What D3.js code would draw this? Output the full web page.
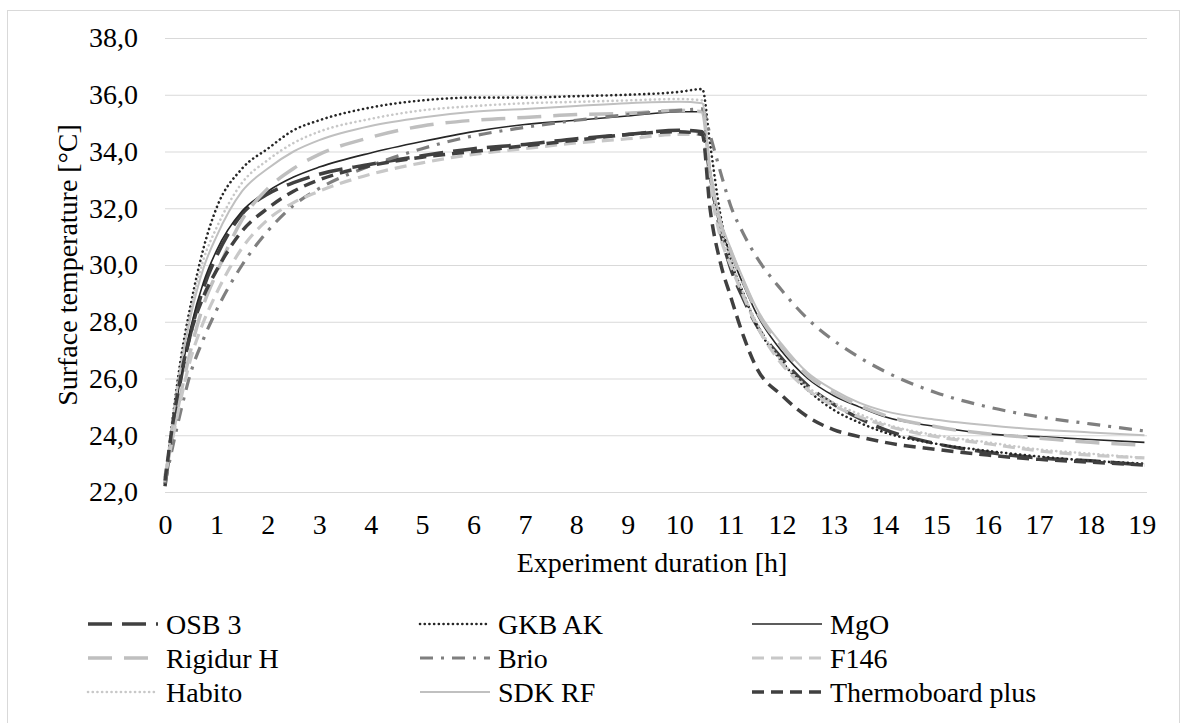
<!DOCTYPE html>
<html>
<head>
<meta charset="utf-8">
<script src="https://cdn.jsdelivr.net/npm/d3@7"></script>
<style>
  html, body { margin: 0; padding: 0; background: #fff; }
  svg text { font-family: "Liberation Serif", Tinos, "DejaVu Serif", serif; fill: #000; }
</style>
</head>
<body>
<div id="chart"></div>
<script>
// time axis (hours), shared by all series
var hours = [0, 0.15, 0.3, 0.5, 0.75, 1, 1.5, 2, 2.5, 3, 4, 5, 6, 7, 8, 9, 10, 10.45,
  10.6, 10.8, 11, 11.25, 11.5, 12, 12.5, 13, 13.5, 14, 15, 16, 17, 18, 19.05];

var osb3 = [22.2, 24.2, 25.9, 27.6, 29.2, 30.3, 31.8, 32.5, 32.9, 33.2, 33.55, 33.85, 34.1, 34.25, 34.45, 34.6, 34.75, 34.7,
  33.2, 31.2, 29.9, 28.8, 27.9, 26.7, 25.75, 25.1, 24.6, 24.2, 23.7, 23.4, 23.2, 23.1, 22.95];
var gkbAk = [22.3, 24.6, 26.6, 28.6, 30.6, 32.0, 33.4, 34.1, 34.75, 35.1, 35.55, 35.8, 35.9, 35.9, 35.95, 36.0, 36.1, 36.2,
  34.3, 31.8, 30.2, 29.0, 27.9, 26.6, 25.6, 24.9, 24.45, 24.1, 23.7, 23.45, 23.25, 23.1, 23.0];
var mgo = [22.3, 24.3, 26.0, 27.8, 29.4, 30.5, 31.9, 32.6, 33.1, 33.45, 33.95, 34.35, 34.7, 34.95, 35.1, 35.25, 35.4, 35.4,
  33.0, 31.3, 30.4, 29.3, 28.3, 26.95, 26.0, 25.4, 25.0, 24.65, 24.3, 24.05, 23.95, 23.85, 23.75];
var rigidurH = [22.5, 24.0, 25.4, 27.0, 28.6, 29.7, 31.6, 32.7, 33.4, 33.9, 34.5, 34.9, 35.1, 35.2, 35.3, 35.35, 35.45, 35.4,
  33.3, 31.5, 30.5, 29.4, 28.4, 27.1, 26.1, 25.5, 25.05, 24.7, 24.3, 24.05, 23.9, 23.75, 23.65];
var brio = [22.3, 23.6, 24.8, 26.2, 27.4, 28.4, 30.0, 31.2, 32.1, 32.7, 33.5, 34.1, 34.55, 34.85, 35.1, 35.3, 35.45, 35.5,
  34.6, 33.3, 32.1, 31.1, 30.3, 29.1, 28.1, 27.35, 26.75, 26.25, 25.5, 25.0, 24.65, 24.4, 24.15];
var f146 = [22.6, 23.9, 25.2, 26.7, 28.0, 29.0, 30.6, 31.6, 32.2, 32.6, 33.2, 33.6, 33.9, 34.1, 34.3, 34.45, 34.6, 34.6,
  32.8, 31.0, 30.0, 28.9, 27.9, 26.5, 25.6, 25.05, 24.65, 24.35, 23.95, 23.7, 23.45, 23.3, 23.2];
var habito = [22.4, 24.6, 26.5, 28.4, 30.2, 31.3, 32.9, 33.7, 34.3, 34.7, 35.15, 35.45, 35.6, 35.7, 35.75, 35.8, 35.85, 35.8,
  33.3, 31.3, 30.2, 29.0, 28.0, 26.6, 25.7, 25.15, 24.75, 24.4, 24.0, 23.75, 23.5, 23.35, 23.2];
var sdkRf = [22.4, 24.5, 26.3, 28.2, 29.9, 31.0, 32.6, 33.4, 34.0, 34.4, 34.9, 35.2, 35.4, 35.5, 35.6, 35.7, 35.75, 35.7,
  33.4, 31.6, 30.6, 29.5, 28.5, 27.2, 26.2, 25.6, 25.15, 24.85, 24.55, 24.35, 24.2, 24.1, 24.0];
var thermoboard = [22.4, 24.4, 26.0, 27.6, 28.9, 29.8, 31.2, 32.0, 32.6, 33.0, 33.5, 33.8, 34.0, 34.2, 34.4, 34.6, 34.7, 34.6,
  32.0, 30.1, 28.9, 27.5, 26.4, 25.4, 24.65, 24.2, 23.95, 23.75, 23.5, 23.3, 23.15, 23.05, 22.95];

var seriesNames = ["OSB 3", "GKB AK", "MgO", "Rigidur H", "Brio", "F146", "Habito", "SDK RF", "Thermoboard plus"];
var xTicks = d3.range(0, 20);
var yTicks = [22, 24, 26, 28, 30, 32, 34, 36, 38];

// line looks, in the same order as seriesNames
var looks = [
  {color: "#404040", width: 3.5, dash: "24,10", cap: "butt"},
  {color: "#262626", width: 2.6, dash: "0.1,4.6", cap: "round"},
  {color: "#262626", width: 1.6, dash: null, cap: "butt"},
  {color: "#bfbfbf", width: 3.5, dash: "24,12", cap: "butt"},
  {color: "#7f7f7f", width: 3.2, dash: "13,8,3,8", cap: "butt"},
  {color: "#c8c8c8", width: 3.2, dash: "12,7", cap: "butt"},
  {color: "#c8c8c8", width: 2.6, dash: "0.1,4.6", cap: "round"},
  {color: "#c0c0c0", width: 2, dash: null, cap: "butt"},
  {color: "#404040", width: 3.5, dash: "12,7", cap: "butt"}
];
var values = [osb3, gkbAk, mgo, rigidurH, brio, f146, habito, sdkRf, thermoboard];

var W = 1187, H = 723;
var FONT = "'Liberation Serif', Tinos, 'DejaVu Serif', serif";
var svg = d3.select("#chart").append("svg").attr("width", W).attr("height", H)
  .style("font-family", FONT);

svg.append("rect")
  .attr("x", 7.5).attr("y", 10.5).attr("width", 1172).attr("height", 730)
  .attr("fill", "#fff").attr("stroke", "#d9d9d9");

var x = d3.scaleLinear().domain([0, 19.1]).range([165, 1147]);
var y = d3.scaleLinear().domain([22, 38]).range([492, 38]);

var comma = d3.formatLocale({decimal: ",", thousands: ".", grouping: [3], currency: ["", ""]}).format(".1f");

// y axis + grid
var gy = svg.append("g").attr("transform", "translate(165,0)")
  .call(d3.axisLeft(y).tickValues(yTicks).tickFormat(comma).tickSize(-(1147 - 165)).tickPadding(27));
gy.attr("font-family", null);
gy.select(".domain").remove();
gy.selectAll("line").attr("stroke", "#d9d9d9").attr("stroke-width", 1.2);
gy.selectAll("text").attr("font-size", 28).style("font-family", FONT).attr("fill", "#000");

// x axis labels
var gx = svg.append("g").attr("transform", "translate(0,492)")
  .call(d3.axisBottom(x).tickValues(xTicks).tickFormat(d3.format("d")).tickSize(0).tickPadding(22));
gx.attr("font-family", null);
gx.select(".domain").remove();
gx.selectAll("text").attr("font-size", 28).style("font-family", FONT).attr("fill", "#000");

svg.append("text")
  .attr("x", 652).attr("y", 572).attr("text-anchor", "middle").attr("font-size", 28)
  .text("Experiment duration [h]");

svg.append("text")
  .attr("transform", "translate(77,265) rotate(-90)")
  .attr("text-anchor", "middle").attr("font-size", 28)
  .text("Surface temperature [°C]");

var line = d3.line().x(d => x(d[0])).y(d => y(d[1])).curve(d3.curveMonotoneX);

var plot = svg.append("g");
values.forEach(function(v, i) {
  var lk = looks[i];
  plot.append("path")
    .datum(hours.map((h, j) => [h, v[j]]))
    .attr("fill", "none")
    .attr("stroke", lk.color)
    .attr("stroke-width", lk.width)
    .attr("stroke-dasharray", lk.dash)
    .attr("stroke-linecap", lk.cap)
    .attr("stroke-linejoin", "round")
    .attr("d", line);
});

// legend: 3 columns x 3 rows
var legend = svg.append("g");
seriesNames.forEach(function(name, i) {
  var col = i % 3, row = Math.floor(i / 3);
  var lx = 88 + col * 332, ly = 624 + row * 34;
  var lk = looks[i];
  legend.append("line")
    .attr("x1", lx).attr("x2", lx + 70).attr("y1", ly).attr("y2", ly)
    .attr("stroke", lk.color).attr("stroke-width", lk.width)
    .attr("stroke-dasharray", lk.dash).attr("stroke-linecap", lk.cap);
  legend.append("text")
    .attr("x", lx + 78).attr("y", ly).attr("dy", "0.35em").attr("font-size", 28)
    .text(name);
});
</script>
</body>
</html>
